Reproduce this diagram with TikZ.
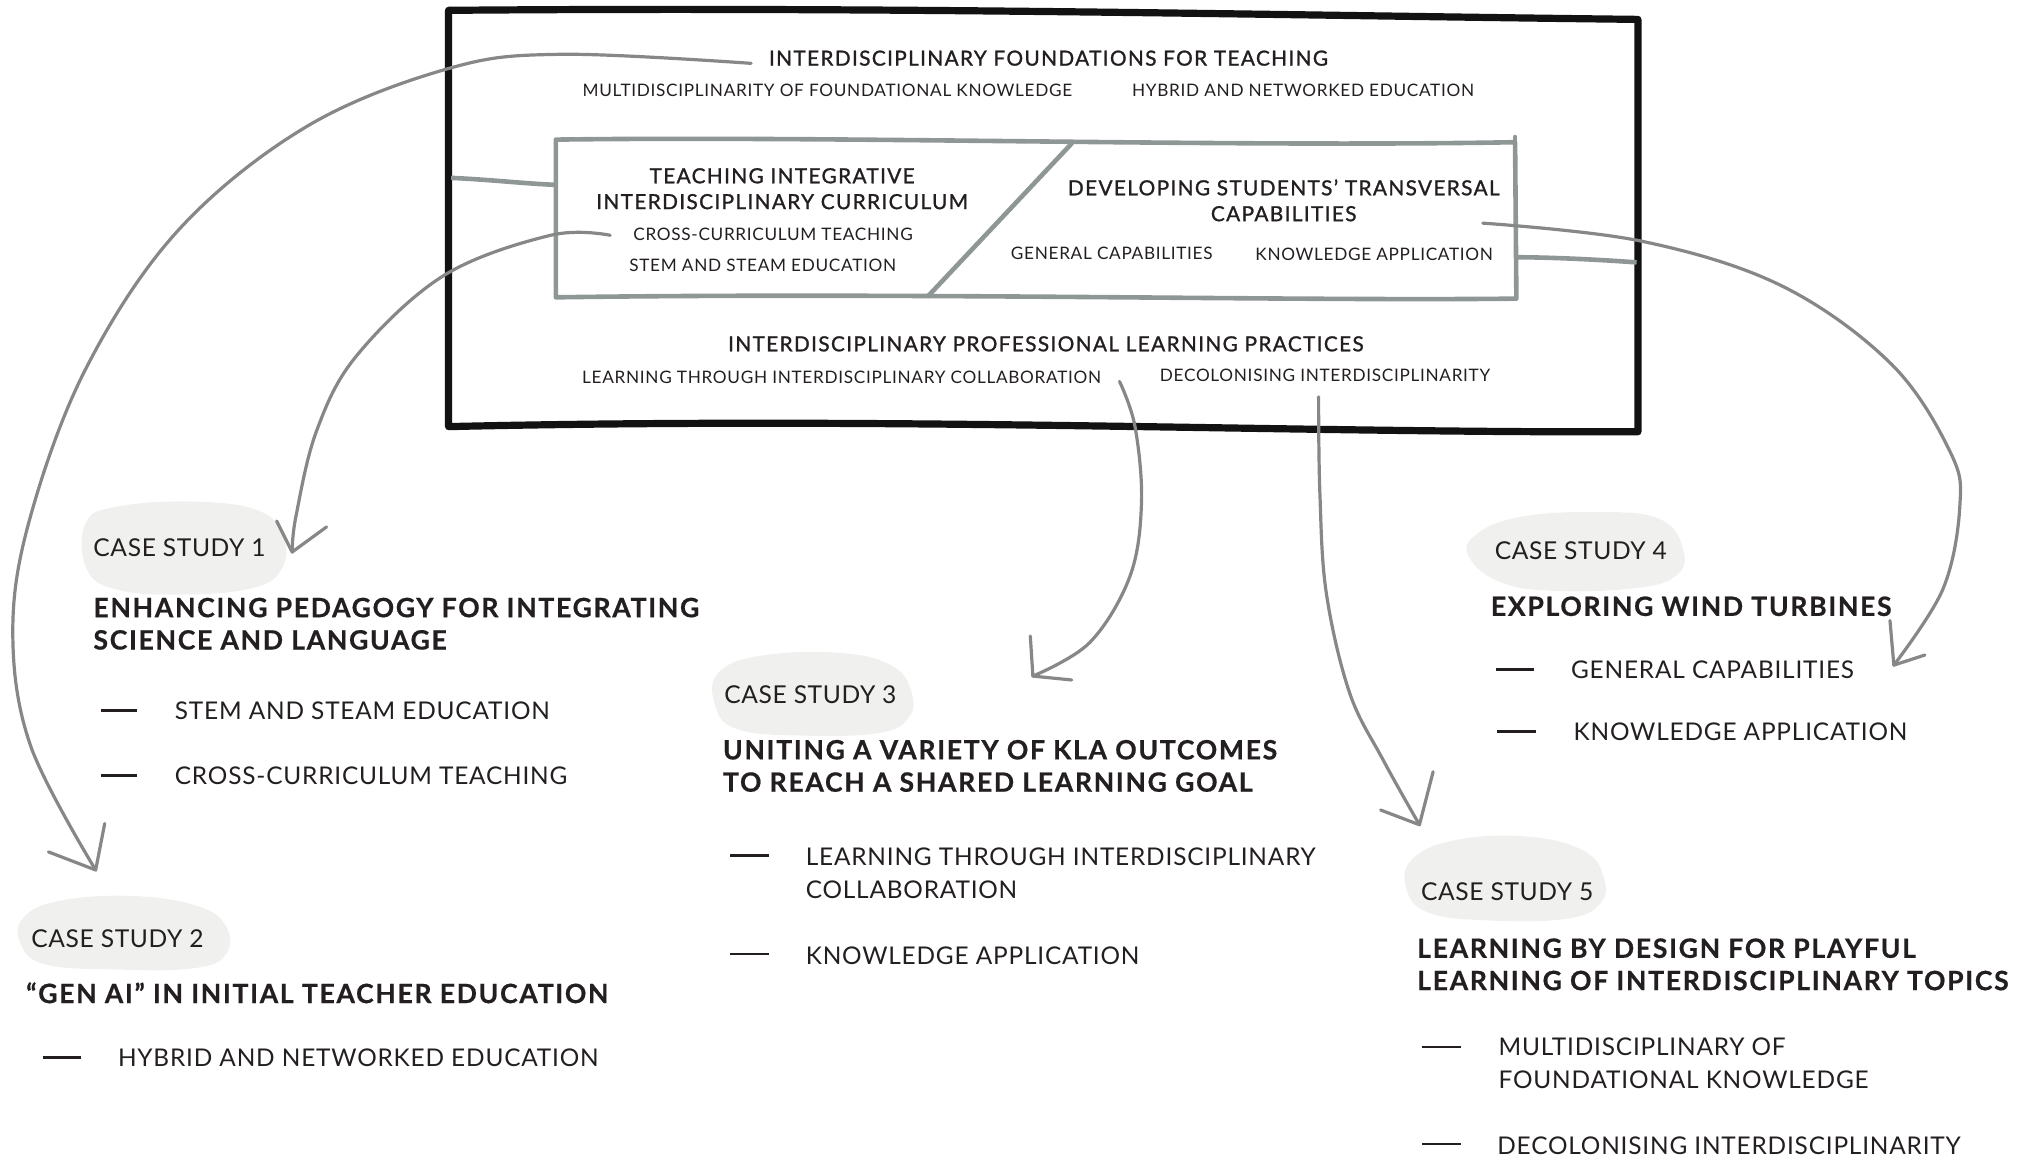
\documentclass[tikz,border=0pt]{standalone}
\usepackage{fontspec}
\setmainfont{Lato}
\newfontfamily\hdrfont[LetterSpace=6.5,FakeBold=1.2]{Lato}
\newfontfamily\subfont[LetterSpace=4]{Lato}
\newfontfamily\labelfont[LetterSpace=2.5]{Lato}
\newfontfamily\titlefont[LetterSpace=6.3,FakeBold=0.6]{Lato}
\newfontfamily\itemfont[LetterSpace=3.3]{Lato}
\definecolor{ink}{HTML}{231F20}
\definecolor{linkgray}{HTML}{878787}
\definecolor{framegray}{HTML}{8F9796}
\definecolor{blobfill}{HTML}{F0F1EF}
\begin{document}
\begin{tikzpicture}[x=0.6464pt,y=-0.6464pt,
  hdr/.style={font=\hdrfont\fontsize{10.4}{12.93}\selectfont, text=ink, inner sep=0pt, align=center},
  boxsub/.style={font=\subfont\fontsize{8.6}{11}\selectfont, text=ink, inner sep=0pt},
  cslabel/.style={font=\labelfont\fontsize{12.3}{15}\selectfont, text=ink, inner sep=0pt, anchor=west},
  cstitle/.style={font=\titlefont\bfseries\fontsize{13.3}{16.16}\selectfont, text=ink, inner sep=0pt, anchor=west, align=left},
  csitem/.style={font=\itemfont\fontsize{12.2}{16.16}\selectfont, text=ink, inner sep=0pt, anchor=west, align=left},
  itemdash/.style={draw=ink, line width=1.3pt},
  blob/.style={fill=blobfill, draw=none},
  outerframe/.style={draw=black!93, line width=3.6pt, line join=round, line cap=round},
  innerframe/.style={draw=framegray, line width=2.3pt, line join=round, line cap=round},
  link/.style={draw=linkgray, line width=1.6pt, line cap=round, line join=round},
]
\path[use as bounding box] (0,0) rectangle (1568,895);

% ---------- framework box ----------
\draw[outerframe] (347,8) .. controls (700,5) and (1000,12) .. (1267,15)
  -- (1267,334) .. controls (1000,335) and (700,322) .. (347,330) -- cycle;
\draw[innerframe] (430,108) .. controls (650,105) and (950,114) .. (1172,110)
  -- (1173,231) .. controls (1000,233) and (700,226) .. (430,230) -- cycle;
\draw[innerframe] (1172,110) -- (1172,106);
\draw[innerframe] (829,111) -- (718,229);

\coordinate (outerL) at (349,137.6);
\coordinate (innerL) at (430,143);
\coordinate (innerR) at (1173,199);
\coordinate (outerR) at (1266,203);
\draw[innerframe, line cap=butt] (outerL) .. controls (380,139) and (405,142) .. (innerL);
\draw[innerframe, line cap=butt] (innerR) .. controls (1200,199) and (1240,201) .. (outerR);

\node[hdr] (found) at (811,45) {INTERDISCIPLINARY FOUNDATIONS FOR TEACHING};
\node[boxsub] (multi) at (640,70) {MULTIDISCIPLINARITY OF FOUNDATIONAL KNOWLEDGE};
\node[boxsub] (hybrid) at (1008,70) {HYBRID AND NETWORKED EDUCATION};

\node[hdr] (tiic) at (605,146) {TEACHING INTEGRATIVE\\INTERDISCIPLINARY CURRICULUM};
\node[boxsub] (cross) at (598,181) {CROSS-CURRICULUM TEACHING};
\node[boxsub] (stem) at (590,205) {STEM AND STEAM EDUCATION};

\node[hdr] (dstc) at (993,155) {DEVELOPING STUDENTS’ TRANSVERSAL\\CAPABILITIES};
\node[boxsub] (genc) at (860,196) {GENERAL CAPABILITIES};
\node[boxsub] (know) at (1063,197) {KNOWLEDGE APPLICATION};

\node[hdr] (iplp) at (809,266) {INTERDISCIPLINARY PROFESSIONAL LEARNING PRACTICES};
\node[boxsub] (ltic) at (651,292) {LEARNING THROUGH INTERDISCIPLINARY COLLABORATION};
\node[boxsub] (deco) at (1025,290) {DECOLONISING INTERDISCIPLINARITY};

% ---------- case study badges ----------
\path[blob] plot[smooth cycle, tension=0.7] coordinates
  {(66,405) (90,392) (150,388) (200,395) (219,415) (218,440) (195,455) (140,460) (90,456) (67,440)};
\path[blob] plot[smooth cycle, tension=0.7] coordinates
  {(18,710) (45,697) (100,693) (150,700) (174,715) (175,738) (150,749) (90,750) (35,746) (16,730)};
\path[blob] plot[smooth cycle, tension=0.7] coordinates
  {(556,520) (590,507) (650,505) (690,515) (705,535) (703,555) (680,567) (620,569) (570,564) (553,545)};
\path[blob] plot[smooth cycle, tension=0.7] coordinates
  {(1140,415) (1175,400) (1240,396) (1285,402) (1302,425) (1297,445) (1265,455) (1200,457) (1160,450) (1137,432)};
\path[blob] plot[smooth cycle, tension=0.7] coordinates
  {(1092,665) (1125,650) (1180,647) (1225,658) (1241,680) (1237,700) (1210,711) (1150,712) (1105,706) (1088,688)};

% ---------- case study 1 ----------
\node[cslabel] (cs1) at (72,424) {CASE STUDY 1};
\node[cstitle] (cs1t) at (72,482.5) {ENHANCING PEDAGOGY FOR INTEGRATING\\SCIENCE AND LANGUAGE};
\draw[itemdash] (78,549.5) -- (106,549.5);
\node[csitem] (cs1a) at (135,550) {STEM AND STEAM EDUCATION};
\draw[itemdash] (78,600) -- (106,600);
\node[csitem] (cs1b) at (135,600) {CROSS-CURRICULUM TEACHING};

% ---------- case study 2 ----------
\node[cslabel] (cs2) at (24,726) {CASE STUDY 2};
\node[cstitle] (cs2t) at (20,768) {“GEN AI” IN INITIAL TEACHER EDUCATION};
\draw[itemdash] (33,818) -- (63,818);
\node[csitem] (cs2a) at (91,818) {HYBRID AND NETWORKED EDUCATION};

% ---------- case study 3 ----------
\node[cslabel] (cs3) at (560,537) {CASE STUDY 3};
\node[cstitle] (cs3t) at (559,592.5) {UNITING A VARIETY OF KLA OUTCOMES\\TO REACH A SHARED LEARNING GOAL};
\draw[itemdash] (565,662) -- (595,662);
\node[csitem] (cs3a) at (623,675.5) {LEARNING THROUGH INTERDISCIPLINARY\\COLLABORATION};
\draw[itemdash] (565,738) -- (595,738);
\node[csitem] (cs3b) at (623,739) {KNOWLEDGE APPLICATION};

% ---------- case study 4 ----------
\node[cslabel] (cs4) at (1156,426) {CASE STUDY 4};
\node[cstitle] (cs4t) at (1153,469) {EXPLORING WIND TURBINES};
\draw[itemdash] (1157,518) -- (1187,518);
\node[csitem] (cs4a) at (1215,518) {GENERAL CAPABILITIES};
\draw[itemdash] (1158,566) -- (1188,566);
\node[csitem] (cs4b) at (1217,566) {KNOWLEDGE APPLICATION};

% ---------- case study 5 ----------
\node[cslabel] (cs5) at (1099,690) {CASE STUDY 5};
\node[cstitle] (cs5t) at (1096,746) {LEARNING BY DESIGN FOR PLAYFUL\\LEARNING OF INTERDISCIPLINARY TOPICS};
\draw[itemdash] (1100,810) -- (1130,810);
\node[csitem] (cs5a) at (1159,822.5) {MULTIDISCIPLINARY OF\\FOUNDATIONAL KNOWLEDGE};
\draw[itemdash] (1100,885) -- (1130,885);
\node[csitem] (cs5b) at (1158,886) {DECOLONISING INTERDISCIPLINARITY};

% ---------- links from the framework to the case studies ----------
\coordinate (s1) at (581,49);    \coordinate (t1) at (74,673);
\coordinate (s2) at (472,182);   \coordinate (t2) at (226,427);
\coordinate (s3) at (866,295);   \coordinate (t3) at (799,523);
\coordinate (s4) at (1020,307);  \coordinate (t4) at (1098,638);
\coordinate (s5) at (1147,172.6);\coordinate (t5) at (1465,514.5);

\draw[link] plot[smooth, tension=0.6] coordinates
  {(s1) (434,42) (347,53) (237,98) (138,178) (67,284) (23.7,399) (9.9,488) (23.7,577) (t1)};
\draw[link] (81,637) -- (t1) -- (37.5,659);

\draw[link] plot[smooth, tension=0.6] coordinates
  {(s2) (426,182) (343.5,213) (276,275) (245,333) (229,399) (t2)};
\draw[link] (214,403) -- (t2) -- (252.6,407.6);

\draw[link] plot[smooth, tension=0.6] coordinates
  {(s3) (878,330) (883,389) (874,446) (843,497) (t3)};
\draw[link] (797,492) -- (t3) -- (829,526);

\draw[link] plot[smooth, tension=0.6] coordinates
  {(s4) (1021,381.6) (1026,459) (1044,536) (1070,588) (t4)};
\draw[link] (1108.6,597) -- (t4) -- (1068,626.6);

\draw[link] plot[smooth, tension=0.6] coordinates
  {(s5) (1269.5,186.5) (1378,221) (1463,281.6) (1509,350.5) (1516,392) (1503,455.6) (t5)};
\draw[link] (1462,480) -- (t5) -- (1489,506.7);
\end{tikzpicture}
\end{document}
